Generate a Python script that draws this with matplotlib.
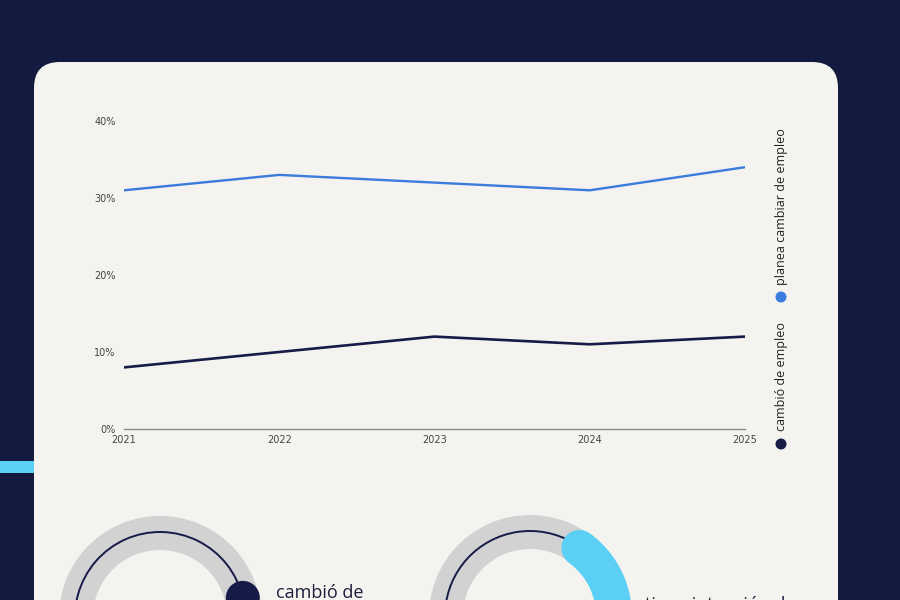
import matplotlib
matplotlib.use("Agg")
import matplotlib.pyplot as plt
from matplotlib.patches import FancyBboxPatch, Wedge, Arc, Circle, Rectangle
import numpy as np

# ---------------- data ----------------
years = [2021, 2022, 2023, 2024, 2025]
planea_cambiar = [31, 33, 32, 31, 34]     # % planea cambiar de empleo
cambio_empleo = [8, 10, 12, 11, 12]       # % cambió de empleo
y_ticks = [0, 10, 20, 30, 40]
y_tick_labels = ["0%", "10%", "20%", "30%", "40%"]
series_labels = ["cambió de empleo", "planea cambiar de empleo"]
donut_texts = ["cambió de", "tiene intención de"]

# colours
BG = "#121a40"
CARD = "#f4f3f0"
BLUE = "#3b7bdc"
NAVY = "#161b47"
CYAN = "#5ccff4"
RING = "#d2d2d2"

fig = plt.figure(figsize=(9, 6), dpi=100)
fig.patch.set_facecolor(BG)

# overlay axes in pixel coordinates (y downward)
bg = fig.add_axes([0, 0, 1, 1], zorder=0)
bg.set_xlim(0, 900)
bg.set_ylim(600, 0)
bg.axis("off")

# card
card = FancyBboxPatch((34, 62), 804, 600, boxstyle="round,pad=0,rounding_size=26",
                      facecolor=CARD, edgecolor="none")
bg.add_patch(card)
# cyan accent bar on the left
bg.add_patch(Rectangle((0, 461), 34, 12, facecolor=CYAN, edgecolor="none"))

# ---------------- line chart ----------------
ax = fig.add_axes([124 / 900, 1 - 429 / 600, (745 - 124) / 900, (429 - 121) / 600], zorder=2)
ax.patch.set_alpha(0)
ax.plot(years, planea_cambiar, color=BLUE, lw=1.7, solid_joinstyle="round")
ax.plot(years, cambio_empleo, color=NAVY, lw=1.9, solid_joinstyle="round")
ax.set_xlim(years[0], years[-1])
ax.set_ylim(0, 40)
ax.set_yticks(y_ticks)
ax.set_yticklabels(y_tick_labels)
ax.set_xticks(years)
ax.set_xticklabels([str(y) for y in years])
for s in ["top", "right", "left"]:
    ax.spines[s].set_visible(False)
ax.spines["bottom"].set_color("#8a8a8a")
ax.spines["bottom"].set_linewidth(1.0)
ax.tick_params(axis="both", length=0, labelsize=7, labelcolor="#444444")
ax.tick_params(axis="y", pad=6)
ax.tick_params(axis="x", pad=4)
for lab in ax.get_yticklabels() + ax.get_xticklabels():
    lab.set_family("DejaVu Sans")

# legend (vertical, rotated)
leg_x = 781
bg.add_patch(Circle((leg_x, 444), 5.5, facecolor=NAVY, edgecolor="none", zorder=3))
bg.text(leg_x, 431, series_labels[0], rotation=90, ha="center", va="bottom",
        fontsize=9, family="Open Sans", color="#222222", zorder=3)
bg.add_patch(Circle((leg_x, 297), 5.5, facecolor=BLUE, edgecolor="none", zorder=3))
bg.text(leg_x, 285, series_labels[1], rotation=90, ha="center", va="bottom",
        fontsize=9, family="Open Sans", color="#222222", zorder=3)

# ---------------- donut gauges (partly visible) ----------------
def vis(a):
    """screen angle (ccw, deg) -> data angle in inverted-y axes"""
    return -a

R_OUT, WIDTH, R_LINE = 101, 34, 85

# donut 1
c1 = (160, 617)
bg.add_patch(Wedge(c1, R_OUT, 0, 360, width=WIDTH, facecolor=RING, edgecolor="none", zorder=2))
bg.add_patch(Arc(c1, 2 * R_LINE, 2 * R_LINE, theta1=vis(215), theta2=vis(13),
                 color=NAVY, lw=1.4, zorder=3))
a = np.deg2rad(13)
bg.add_patch(Circle((c1[0] + R_LINE * np.cos(a), c1[1] - R_LINE * np.sin(a)), 17,
                    facecolor=NAVY, edgecolor="none", zorder=4))
bg.text(276, 598, donut_texts[0], fontsize=13, family="Open Sans", color="#1b1f3b",
        ha="left", va="baseline", zorder=4)

# donut 2
c2 = (530, 616)
bg.add_patch(Wedge(c2, R_OUT, 0, 360, width=WIDTH, facecolor=RING, edgecolor="none", zorder=2))
bg.add_patch(Arc(c2, 2 * R_LINE, 2 * R_LINE, theta1=vis(215), theta2=vis(60),
                 color=NAVY, lw=1.4, zorder=3))
start = 54
bg.add_patch(Wedge(c2, R_OUT + 1, vis(start), vis(-60), width=WIDTH + 2, facecolor=CYAN,
                   edgecolor="none", zorder=4))
a = np.deg2rad(start)
bg.add_patch(Circle((c2[0] + (R_OUT - WIDTH / 2) * np.cos(a), c2[1] - (R_OUT - WIDTH / 2) * np.sin(a)),
                    WIDTH / 2 + 1, facecolor=CYAN, edgecolor="none", zorder=4))
bg.text(645, 610, donut_texts[1], fontsize=13, family="Open Sans", color="#1b1f3b",
        ha="left", va="baseline", zorder=4)

fig.savefig("out.png", dpi=100, facecolor=fig.get_facecolor())
